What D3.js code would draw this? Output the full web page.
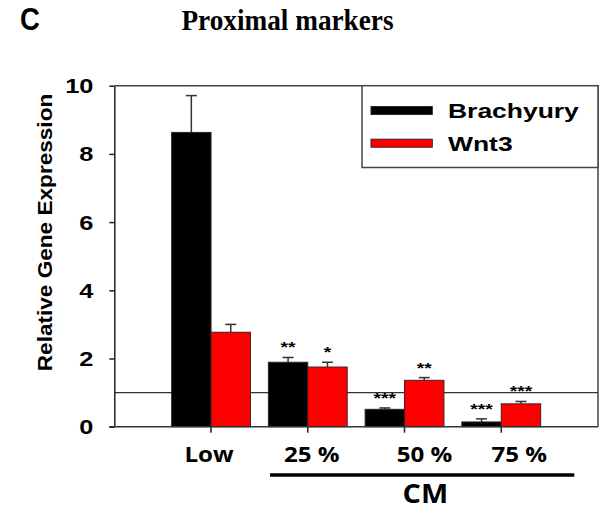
<!DOCTYPE html>
<html>
<head>
<meta charset="utf-8">
<script src="https://cdn.jsdelivr.net/npm/d3@7"></script>
<style>
  html, body { margin: 0; padding: 0; background: #fff; }
  svg { display: block; }
</style>
</head>
<body>
<svg id="chart" width="606" height="511"></svg>
<script>
// Relative expression of proximal markers under low density and conditioned medium
const categories = ["Low", "25 %", "50 %", "75 %"];
const seriesNames = ["Brachyury", "Wnt3"];
const brachyury = [8.63, 1.89, 0.51, 0.14];
const brachyuryErr = [1.08, 0.14, 0.04, 0.09];
const wnt3 = [2.77, 1.75, 1.36, 0.67];
const wnt3Err = [0.23, 0.14, 0.08, 0.07];
const brachyuryStars = ["", "**", "***", "***"];
const wnt3Stars = ["", "*", "**", "***"];
const yTicks = [0, 2, 4, 6, 8, 10];
const referenceLevel = 1;

const colors = { Brachyury: "#000000", Wnt3: "#ff0000" };
const sansA = "'Liberation Sans', Arial, sans-serif";
const sansB = "'Open Sans', 'Noto Sans', sans-serif";
const stretch = 1.24;

const svg = d3.select("#chart");
const plot = { left: 114.3, right: 598, top: 85.7, bottom: 426.7 };

const y = d3.scaleLinear().domain([0, 10]).range([plot.bottom, plot.top]);
const x = d3.scaleBand().domain(categories)
  .range([plot.left, plot.right]).paddingInner(0).paddingOuter(0.5);
const barW = 39.4;
const xs = d3.scaleBand().domain(seriesNames).range([-barW, barW]);

const rows = categories.map((c, i) => ({
  cat: c,
  values: [
    { s: "Brachyury", v: brachyury[i], e: brachyuryErr[i], star: brachyuryStars[i] },
    { s: "Wnt3", v: wnt3[i], e: wnt3Err[i], star: wnt3Stars[i] }
  ]
}));

// stretched text helper
function label(g, txt, px, py, opts) {
  const sx = opts.sx || 1;
  return g.append("text")
    .attr("transform", `translate(${px},${py})${opts.rot ? ` rotate(${opts.rot})` : ""} scale(${sx},1)`)
    .attr("text-anchor", opts.anchor || "middle")
    .attr("font-family", opts.family || sansA)
    .attr("font-weight", opts.weight || "bold")
    .attr("font-size", opts.size)
    .attr("fill", "#000")
    .text(txt);
}

// panel letter and title
label(svg, "C", 20, 29.5, { anchor: "start", family: sansA, size: 32, sx: 0.86 });
label(svg, "Proximal markers", 287.5, 29.5, { family: "'Liberation Serif', 'Times New Roman', serif", size: 29, sx: 0.94 });

// reference line at 1
svg.append("line")
  .attr("x1", plot.left).attr("x2", plot.right)
  .attr("y1", y(referenceLevel)).attr("y2", y(referenceLevel))
  .attr("stroke", "#333").attr("stroke-width", 1.2);

// frame: top and right edges
svg.append("path")
  .attr("d", `M${plot.left},${plot.top}H${plot.right}V${plot.bottom}`)
  .attr("fill", "none").attr("stroke", "#444").attr("stroke-width", 1.5);

// bars
const groups = svg.append("g").selectAll("g").data(rows).join("g")
  .attr("transform", d => `translate(${x(d.cat) + x.bandwidth() / 2},0)`);

groups.selectAll("rect").data(d => d.values).join("rect")
  .attr("x", d => xs(d.s))
  .attr("width", xs.bandwidth())
  .attr("y", d => y(d.v))
  .attr("height", d => y(0) - y(d.v))
  .attr("fill", d => colors[d.s])
  .attr("stroke", "#3a2020").attr("stroke-width", 1);

// error bars (upper)
const eb = groups.selectAll("g.err").data(d => d.values).join("g").attr("class", "err")
  .attr("transform", d => `translate(${xs(d.s) + xs.bandwidth() / 2},0)`);
eb.append("line").attr("x1", 0).attr("x2", 0)
  .attr("y1", d => y(d.v)).attr("y2", d => y(d.v + d.e))
  .attr("stroke", "#333").attr("stroke-width", 1.5);
eb.append("line").attr("x1", -5.5).attr("x2", 5.5)
  .attr("y1", d => y(d.v + d.e)).attr("y2", d => y(d.v + d.e))
  .attr("stroke", "#333").attr("stroke-width", 1.5);

// significance stars
eb.each(function (d) {
  if (d.star) label(d3.select(this), d.star, 0, y(d.v + d.e) - 5, { size: 15.5, sx: stretch });
});

// y axis
const yAxis = svg.append("g").attr("transform", `translate(${plot.left},0)`)
  .call(d3.axisLeft(y).tickValues(yTicks).tickSize(5).tickSizeOuter(0).tickFormat(() => ""));
yAxis.select(".domain").attr("stroke", "#222").attr("stroke-width", 1.5);
yAxis.selectAll(".tick line").attr("stroke", "#222").attr("stroke-width", 1.5);
yTicks.forEach(t => label(svg, String(t), 93.5, y(t) + 7.5, { anchor: "end", size: 20.5, sx: stretch }));

// x axis
const xAxis = svg.append("g").attr("transform", `translate(0,${plot.bottom})`)
  .call(d3.axisBottom(x).tickSize(6).tickSizeOuter(0).tickFormat(() => ""));
xAxis.select(".domain").attr("d", `M${plot.left - 5},0H${plot.right}`)
  .attr("stroke", "#333").attr("stroke-width", 1.5);
xAxis.selectAll(".tick line").attr("stroke", "#222").attr("stroke-width", 1.5);

const labelNudge = [-2, 4, 20, 18];
categories.forEach((c, i) =>
  label(svg, c, x(c) + x.bandwidth() / 2 + labelNudge[i], 461.7, { family: sansB, size: 21, sx: 1.15 }));

// CM bracket
svg.append("line").attr("x1", 270).attr("x2", 574.3).attr("y1", 475).attr("y2", 475)
  .attr("stroke", "#000").attr("stroke-width", 3.5);
label(svg, "CM", 425.3, 503.3, { family: sansB, size: 27.5, sx: 1.05 });

// y axis title
label(svg, "Relative Gene Expression", 52.3, 232.5, { rot: -90, size: 20, sx: 1.13 });

// legend
const lg = svg.append("g");
lg.append("rect").attr("x", 362).attr("y", plot.top).attr("width", plot.right - 362).attr("height", 167.5 - plot.top)
  .attr("fill", "#fff").attr("stroke", "#444").attr("stroke-width", 1.5);
const legendY = d3.scalePoint().domain(seriesNames).range([110.5, 143.2]);
seriesNames.forEach(s => {
  lg.append("rect").attr("x", 371).attr("y", legendY(s) - 4).attr("width", 61.3).attr("height", 8)
    .attr("fill", colors[s]).attr("stroke", "#3a2020").attr("stroke-width", 1);
  label(lg, s, 448, legendY(s) + 7.6, { anchor: "start", size: 21, sx: 1.26 });
});
</script>
</body>
</html>
